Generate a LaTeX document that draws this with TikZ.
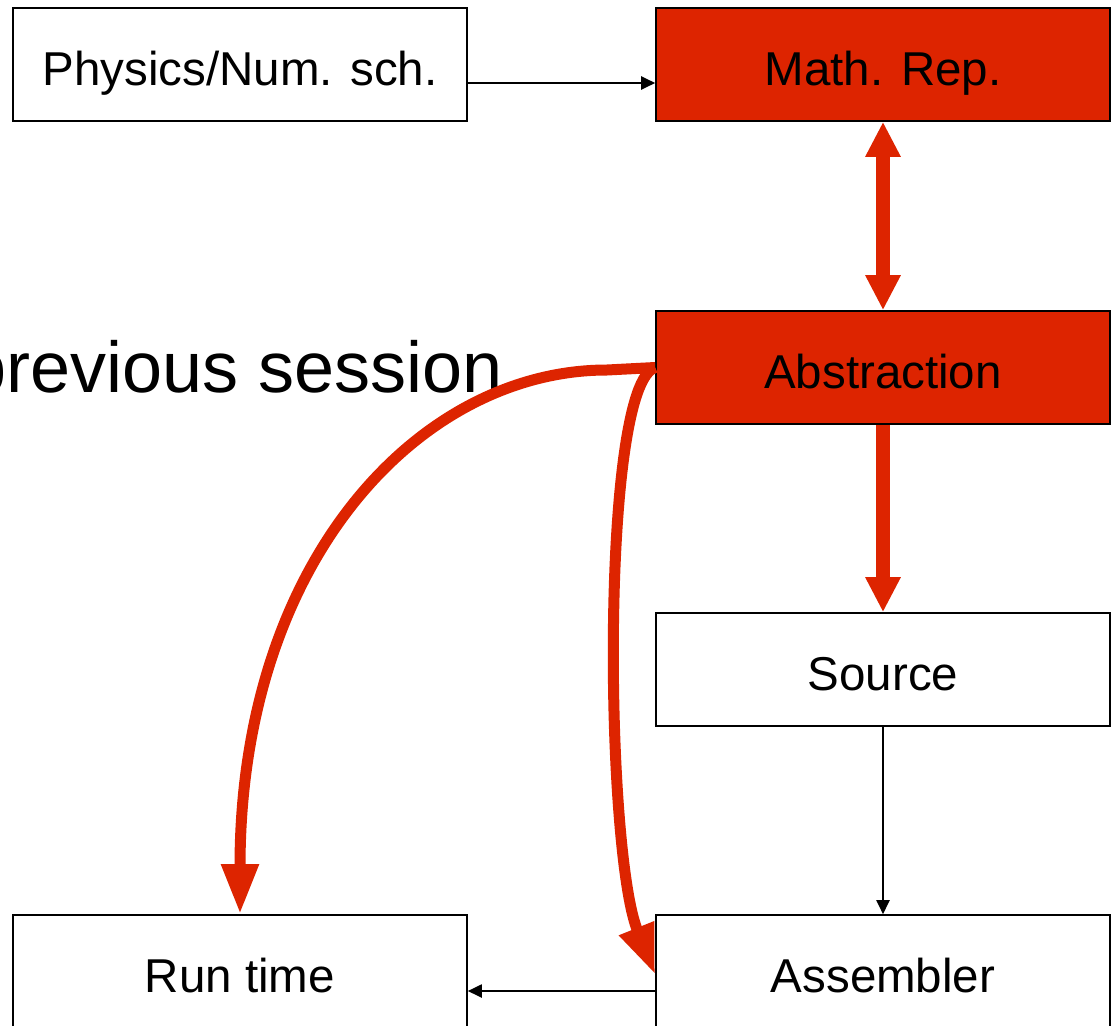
\documentclass[tikz,border=0pt]{standalone}
\usepackage{fontspec}
\setmainfont{Liberation Sans}
\usetikzlibrary{arrows.meta}
\definecolor{hotred}{RGB}{221,36,0}
\tikzset{
  box/.style={draw=black, line width=1.6pt, minimum width=454pt, minimum height=113pt,
    inner sep=0pt, text height=41pt, text depth=0pt,
    font=\fontsize{47.5}{48}\selectfont, fill=white},
  hotbox/.style={box, fill=hotred},
  thinarrow/.style={draw=black, line width=2pt, -{Triangle[length=14pt,width=13pt]}},
  bigarrow/.style={draw=hotred, line width=14pt, {Triangle[length=35pt,width=33pt]}-{Triangle[length=35pt,width=33pt]}},
  bigonearrow/.style={draw=hotred, line width=14pt, -{Triangle[length=35pt,width=33pt]}},
  curvearrow/.style={draw=hotred, line width=11pt, line join=round, -{Triangle[length=50pt,width=35pt]}}
}
\begin{document}
\begin{tikzpicture}[x=1pt,y=-1pt]
  \useasboundingbox (0,0) rectangle (1118,1025);
  \clip (0,0) rectangle (1118,1025);
  \fill[white] (0,0) rectangle (1118,1025);

  % stages of the chain
  \node[box]    (phys) at (240,64.5)  {Physics/Num. sch.};
  \node[hotbox] (math) at (883,64.5)  {Math. Rep.};
  \node[hotbox] (abst) at (883,367.5) {Abstraction};
  \node[box]    (src)  at (883,669.5) {Source};
  \node[box]    (run)  at (240,971.5) {Run time};
  \node[box]    (asm)  at (883,971.5) {Assembler};

  \node[anchor=base east, inner sep=0pt, font=\fontsize{72}{72}\selectfont] (prev) at (503,392) {previous session};

  % thin black links
  \draw[thinarrow] ([yshift=-18.5pt]phys.east) -- ([yshift=-18.5pt]math.west);
  \draw[thinarrow] (src.south) -- (asm.north);
  \draw[thinarrow] ([yshift=-19.5pt]asm.west) -- ([yshift=-19.5pt]run.east);

  % thick red links
  \draw[bigarrow] (math.south) -- (abst.north);
  \draw[bigonearrow] (abst.south) -- (src.north);
  \coordinate (bend) at (607,370);
  \draw[curvearrow] (abst.west) -- (bend) .. controls (420,370) and (240,560) .. (run.north);
  \draw[curvearrow] (abst.west) .. controls (600,385) and (605,850) .. ([yshift=-3pt]asm.west);
\end{tikzpicture}
\end{document}
